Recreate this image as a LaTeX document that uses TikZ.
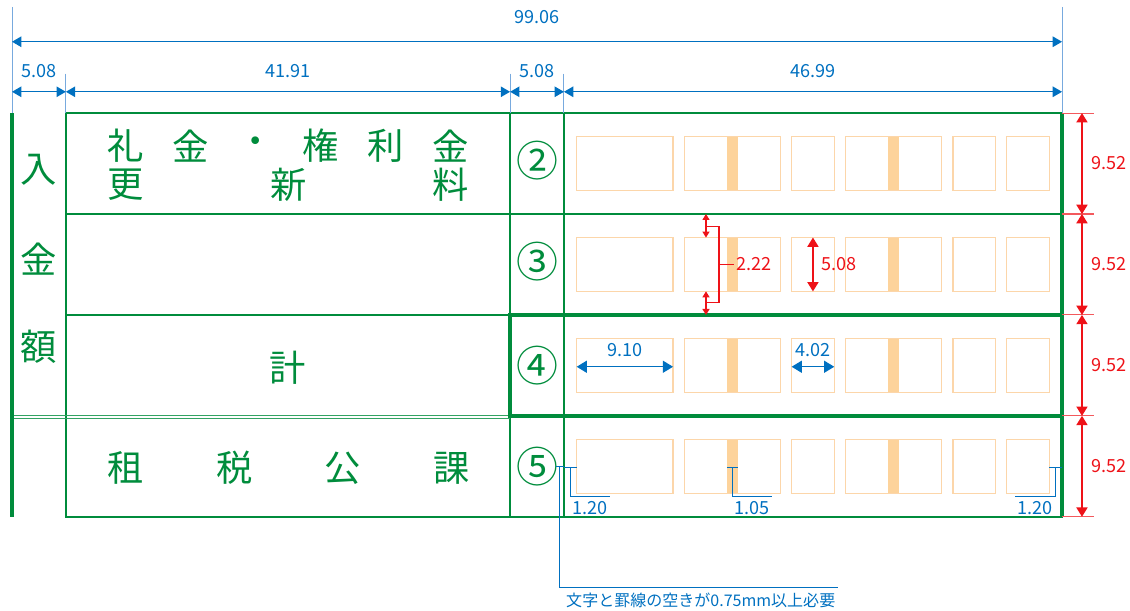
\documentclass[tikz,border=0pt]{standalone}
\usepackage{fontspec}
\setmainfont{Noto Sans CJK JP}
\usetikzlibrary{arrows.meta, positioning}

\definecolor{keisen}{RGB}{0,140,60}
\definecolor{sunpo}{RGB}{0,112,192}
\definecolor{hojo}{RGB}{120,170,222}
\definecolor{aka}{RGB}{238,18,24}
\definecolor{waku}{RGB}{252,214,170}
\definecolor{obi}{RGB}{253,211,155}

\begin{document}
\begin{tikzpicture}[
        x=2mm, y=2mm,
        rule/.style={keisen, line width=1pt},
        thickrule/.style={keisen, line width=2.4pt},
        doublerule/.style={keisen!80, line width=0.5pt},
        dimarrow/.style={sunpo, line width=0.7pt, {Triangle[length=5pt,width=5.6pt]}-{Triangle[length=5pt,width=5.6pt]}},
        dimext/.style={hojo, line width=0.5pt},
        reddim/.style={aka, line width=0.7pt, {Triangle[length=5pt,width=6pt]}-{Triangle[length=5pt,width=6pt]}},
        reddimsmall/.style={aka, line width=0.6pt, {Triangle[length=3.2pt,width=3.8pt]}-{Triangle[length=3.2pt,width=3.8pt]}},
        redext/.style={aka!70, line width=0.6pt},
        leader/.style={sunpo, line width=0.55pt},
        cellbox/.style={waku, line width=0.7pt},
        dimtext/.style={font=\fontsize{9.7}{10}\selectfont, inner sep=0pt},
        moji/.style={keisen, font=\fontsize{19.5}{20}\selectfont, inner sep=0pt},
        maru/.style={keisen, font=\fontsize{22.5}{23}\selectfont, inner sep=0pt}
    ]
    \useasboundingbox (-1.132,-8.868) rectangle (105.47,48.75);
    \def\rh{9.52}
    \def\top{38.08}

    % boxes for the figures
    \foreach \r in {0,...,3}{
        \foreach \a in {2,5}
            \fill[obi] ({57.29+5.07*\a}, {\r*\rh+2.22}) rectangle ({58.34+5.07*\a}, {\r*\rh+7.30});
        \foreach \a/\b in {0/1, 2/3, 4/4, 5/6, 7/7, 8/8}
            \draw[cellbox] ({53.27+5.07*\a}, {\r*\rh+2.22}) rectangle ({57.29+5.07*\b}, {\r*\rh+7.30});
    }

    % table
    \draw[rule] (5.08,0) rectangle (99.06,\top);
    \draw[rule] (5.08,28.56) -- (99.06,28.56);
    \draw[rule] (5.08,19.04) -- (46.99,19.04);
    \draw[rule] (46.99,0) -- (46.99,\top);
    \draw[rule] (52.07,0) -- (52.07,\top);
    \draw[doublerule] (0,9.58) -- (46.99,9.58);
    \draw[doublerule] (0,9.28) -- (46.99,9.28);
    \draw[thickrule] (46.99,9.52) rectangle (99.06,19.04);
    \draw[thickrule] (99.06,0) -- (99.06,\top);
    \draw[thickrule] (0,0) -- (0,\top);

    \node[moji] (nyu) at (2.54,32.7) {入};
    \node[moji] (kin) at (2.54,24.3) {金};
    \node[moji] (gaku) at (2.54,16.0) {額};

    \foreach \c [count=\i from 0] in {礼,金,・,権,利,金}
        \node[moji] (reikin-\i) at ({10.75+6.13*\i}, 35.0) {\c};
    \foreach \c [count=\i from 0] in {更,新,料}
        \node[moji] (koshin-\i) at ({10.75+15.33*\i}, 31.3) {\c};
    \node[moji] (kei) at (26.04,14.1) {計};
    \foreach \c [count=\i from 0] in {租,税,公,課}
        \node[moji] (sozei-\i) at ({10.7+10.27*\i}, 4.6) {\c};

    \node[maru] (no2) at (49.53,33.6) {②};
    \node[maru] (no3) at (49.53,24.1) {③};
    \node[maru] (no4) at (49.53,14.3) {④};
    \node[maru] (no5) at (49.53,4.7) {⑤};

    % widths
    \draw[dimext] (0,48.1) -- (0,\top);
    \draw[dimext] (99.06,48.1) -- (99.06,\top);
    \foreach \x in {5.08,46.99,52.07}
        \draw[dimext] (\x,41.8) -- (\x,\top);
    \draw[dimarrow] (0,44.81) -- (99.06,44.81);
    \node[dimtext, sunpo] (w-all) at (49.53,47.17) {99.06};
    \foreach \a/\b/\t in {0/5.08/5.08, 5.08/46.99/41.91, 46.99/52.07/5.08, 52.07/99.06/46.99}{
        \draw[dimarrow] (\a,40.09) -- (\b,40.09);
        \node[dimtext, sunpo] (w-\t) at ({(\a+\b)/2},42.08) {\t};
    }

    % heights
    \foreach \r in {0,...,4}
        \draw[redext] (99.06,{\r*\rh}) -- (102.1,{\r*\rh});
    \foreach \r in {0,...,3}{
        \draw[reddim] (100.94,{\r*\rh}) -- (100.94,{(\r+1)*\rh});
        \node[dimtext, aka] (h-\r) at (103.45,{\r*\rh+4.76}) {9.52};
    }
    \draw[reddimsmall] (65.47,28.56) -- (65.47,26.34);
    \draw[reddimsmall] (65.47,21.26) -- (65.47,19.04);
    \draw[aka, line width=0.6pt] (65.47,27.42) -| (66.7,20.18) -- (65.47,20.18);
    \draw[aka, line width=0.6pt] (66.7,23.8) -- (68.1,23.8)
        node[dimtext, aka, anchor=west, xshift=1pt] (m-222) {2.22};
    \draw[reddim] (75.56,26.34) -- (75.56,21.26)
        node[dimtext, aka, anchor=west] (m-508) at (76.3,23.8) {5.08};

    % figure boxes
    \draw[dimarrow, {Triangle[length=5.5pt,width=6.5pt]}-{Triangle[length=5.5pt,width=6.5pt]}] (53.27,14.15) -- (62.36,14.15);
    \node[dimtext, sunpo] (m-910) at (57.82,15.75) {9.10};
    \draw[dimarrow, {Triangle[length=5.5pt,width=6.5pt]}-{Triangle[length=5.5pt,width=6.5pt]}] (73.55,14.15) -- (77.57,14.15);
    \node[dimtext, sunpo] (m-402) at (75.56,15.75) {4.02};

    % gaps
    \draw[leader] (51.32,4.72) -- (52.07,4.72);
    \draw[leader] (51.62,4.72) -- (51.62,-6.7) -- (77.9,-6.7);
    \node[dimtext, sunpo, anchor=west, font=\fontsize{8.6}{10}\selectfont] (note) at (52.25,-7.85) {文字と罫線の空きが0.75mm以上必要};
    \foreach \a/\b/\c/\e/\t in {52.07/53.27/52.67/56.4/1.20, 67.43/68.48/67.95/71.7/1.05, 97.85/99.06/98.45/94.6/1.20}{
        \draw[leader] (\a,4.62) -- (\b,4.62);
        \draw[leader] (\c,4.62) |- (\e,1.89);
        \node[dimtext, sunpo] (g-\c) at ({(\c+\e)/2},0.85) {\t};
    }
\end{tikzpicture}
\end{document}
